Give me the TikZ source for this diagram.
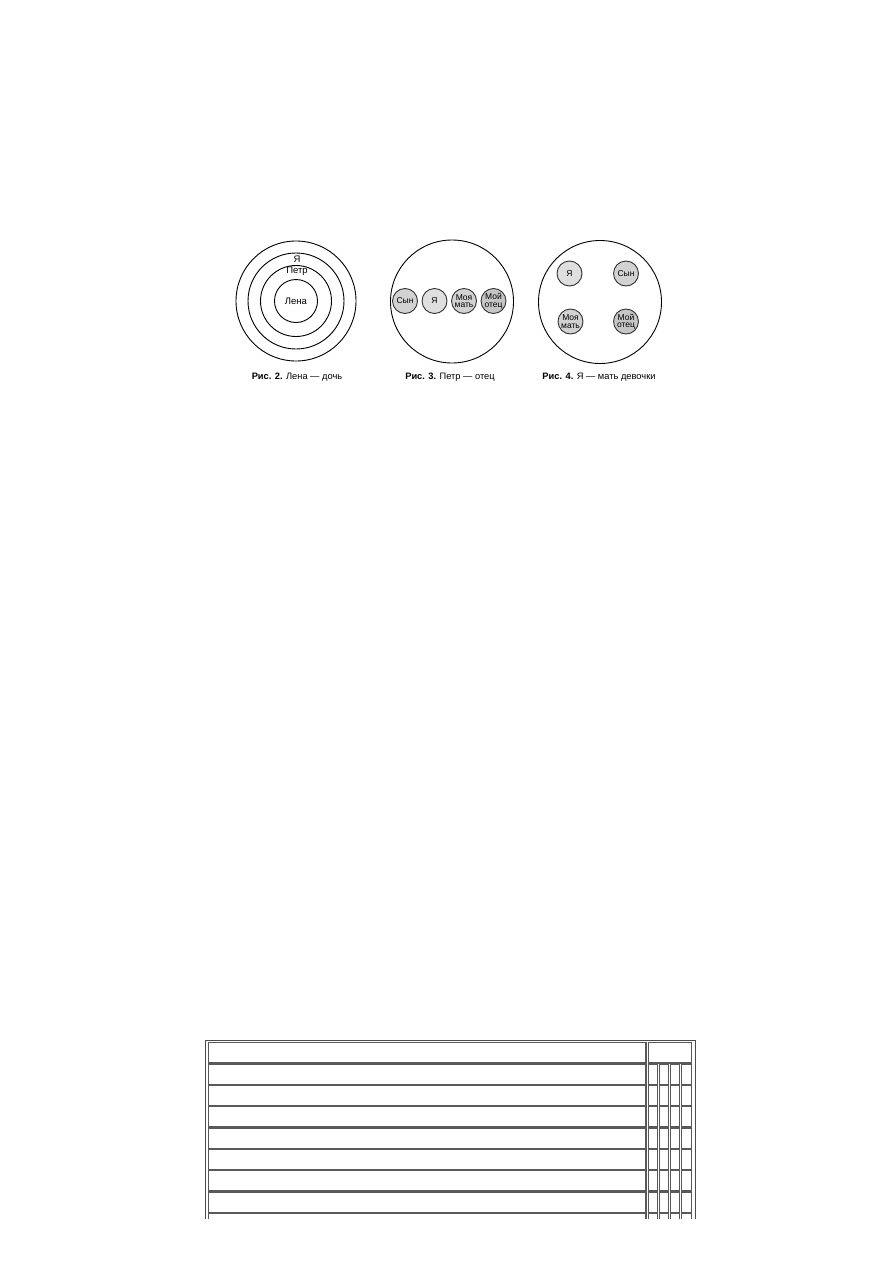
\documentclass[tikz,border=0pt]{standalone}
\usepackage{fontspec}
\setmainfont{Liberation Sans}
\tikzset{
  ring/.style     = {draw, line width=0.9pt},
  bigring/.style  = {ring, shape=circle, inner sep=0pt, minimum size=123pt},
  person/.style   = {shape=circle, draw=black!80, line width=0.9pt,
                     minimum size=25pt, inner sep=0pt, align=center,
                     font=\fontsize{8.5}{7.6}\selectfont, fill=gray!35},
  label/.style    = {inner sep=0pt, font=\fontsize{9.5}{10}\selectfont},
  caption/.style  = {inner sep=0pt, font=\fontsize{9.3}{10}\selectfont},
  frame/.style    = {draw=gray!60!black, line width=1pt},
  cellbox/.style  = {draw=black!65, line width=1.1pt},
}

\begin{document}
\begin{tikzpicture}
  [
    x = 1pt,
    y = -1pt,
  ]
  \useasboundingbox [fill=white] (0,0) rectangle (893,1263);

  % Fig. 2: rings
  \coordinate (c2) at (296,301);
  \foreach \r in {60,48,35.5,21.5}
    \draw [ring] (c2) circle [radius=\r];
  \node [label] (ya2)   at (297,259) {Я};
  \node [label] (petr2) at (297,271.5) {Петр};
  \node [label] (lena2) at (296,301) {Лена};
  \node [caption] (cap2) at (297,377) {\textbf{Рис. 2.} Лена — дочь};

  % Fig. 3: a row of four
  \node [bigring] (big3) at (452,301.5) {};
  \node [person, fill=gray!35] (syn3)  at (405,301) {Сын};
  \node [person, fill=gray!25] (ya3)   at (434.5,301) {Я};
  \node [person, fill=gray!35] (mat3)  at (464,301) {Моя\\мать};
  \node [person, fill=gray!45] (otec3) at (493.5,301) {Мой\\отец};
  \node [caption] (cap3) at (450,377) {\textbf{Рис. 3.} Петр — отец};

  % Fig. 4: four apart
  \node [bigring] (big4) at (600,302) {};
  \node [person, fill=gray!25] (ya4)   at (569.5,273.5) {Я};
  \node [person, fill=gray!35] (syn4)  at (626,273.5) {Сын};
  \node [person, fill=gray!35] (mat4)  at (570.5,321.5) {Моя\\мать};
  \node [person, fill=gray!45] (otec4) at (626,321.5) {Мой\\отец};
  \node [caption] (cap4) at (599,377) {\textbf{Рис. 4.} Я — мать девочки};

  % table, cut by the page
  \begin{scope}
    \clip (200,1035) rectangle (700,1218.5);
    \draw [frame] (205.7,1040) rectangle (695.5,1240);
    \foreach \i in {0,...,8}
      \draw [cellbox] (208.3,{1042.7+21.33*\i}) rectangle ++(437.7,20.3);
    \draw [cellbox] (648.3,1042.7) rectangle ++(43.4,20.3);
    \foreach \i in {1,...,8}
      \foreach \j in {0,...,3}
        \draw [cellbox] ({648.3+11.15*\j},{1042.7+21.33*\i}) rectangle ++(9.3,20.3);
  \end{scope}
\end{tikzpicture}
\end{document}
